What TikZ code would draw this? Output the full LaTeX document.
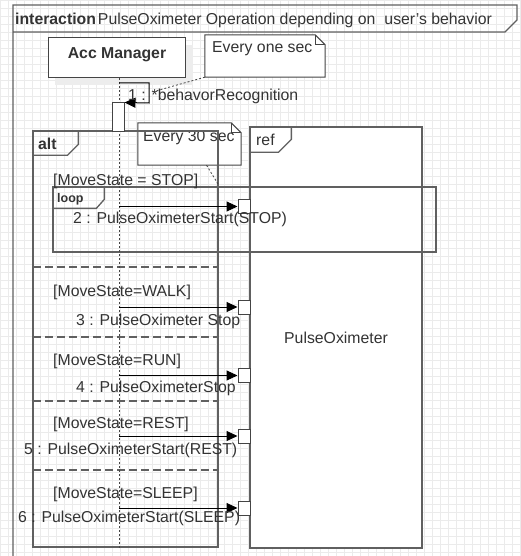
\documentclass[tikz,border=0pt]{standalone}
\usepackage{fontspec}
\setmainfont{Liberation Sans}
\usetikzlibrary{arrows.meta}
\definecolor{gridc}{HTML}{EBEBEB}
\definecolor{framec}{HTML}{606060}
\definecolor{boxc}{HTML}{444444}
\definecolor{txtc}{HTML}{333333}
\begin{document}
\begin{tikzpicture}[x=1pt,y=-1pt,
  txt/.style={font=\fontsize{15.8}{19}\selectfont, text=txtc, inner sep=0pt, anchor=base west},
  btxt/.style={txt, font=\fontsize{15.8}{19}\selectfont\bfseries},
  frame/.style={draw=framec, line width=1.3pt, inner sep=0pt},
  msg/.style={draw=black, line width=1pt, -{Triangle[length=11pt,width=10pt]}},
  exec/.style={draw=boxc, fill=white, line width=1pt, inner sep=0pt, minimum width=12pt, minimum height=14pt},
  notebox/.style={inner sep=0pt},
  notedraw/.style={draw=boxc, fill=white, line width=1pt},
  sep/.style={draw=framec, line width=1.3pt, dash pattern=on 8pt off 4pt},
  life/.style={draw=boxc, line width=1pt, dash pattern=on 2pt off 2pt},
  link/.style={draw=boxc, line width=0.8pt, dash pattern=on 2pt off 2pt}
]
\useasboundingbox (0,0) rectangle (521,556);
\fill[white] (0,0) rectangle (521,556);
% grid
\foreach \i in {0,8,...,520} \draw[gridc, line width=0.6pt] (\i,0) -- (\i,556);
\foreach \j in {0,8,...,552} \draw[gridc, line width=0.6pt] (0,\j) -- (521,\j);

% outer interaction frame
\draw[frame] (13,556) -- (13,5) -- (517,5) -- (517,20) -- (505,32) -- (13,32);
\node[txt] (title) at (15,25) {\bfseries interaction\hspace{2pt}\mdseries PulseOximeter Operation depending on\hspace{9pt}user's behavior};

% ref frame
\node[frame, fill=white, minimum width=172pt, minimum height=421pt,
      font=\fontsize{15.8}{19}\selectfont, text=txtc] (ref) at (336,337.5) {PulseOximeter};
\draw[frame] (ref.north west) ++(42,0) -- ++(0,13) -- ++(-13,13) -- ++(-29,0);
\node[txt] (reft) at (256,145.5) {ref};

% notes
\node[notebox, minimum width=120pt, minimum height=42pt] (n1) at (265,56) {};
\draw[notedraw] (n1.north west) -- ([xshift=-10pt]n1.north east) -- ([yshift=-10pt]n1.north east) -- (n1.south east) -- (n1.south west) -- cycle;
\draw[boxc, line width=1pt] ([xshift=-10pt]n1.north east) -- ([xshift=-10pt,yshift=-10pt]n1.north east) -- ([yshift=-10pt]n1.north east);
\node[txt] (n1t) at (212,53) {Every one sec};

\node[notebox, minimum width=103pt, minimum height=42pt] (n2) at (189.5,144) {};
\draw[notedraw] (n2.north west) -- ([xshift=-10pt]n2.north east) -- ([yshift=-10pt]n2.north east) -- (n2.south east) -- (n2.south west) -- cycle;
\draw[boxc, line width=1pt] ([xshift=-10pt]n2.north east) -- ([xshift=-10pt,yshift=-10pt]n2.north east) -- ([yshift=-10pt]n2.north east);
\node[txt] (n2t) at (143,142) {Every 30 sec};

% Acc Manager
\fill[black!7] (55,45) rectangle (193,85);
\node[draw=boxc, fill=white, line width=1pt, minimum width=137pt, minimum height=40pt,
      font=\fontsize{15.8}{19}\selectfont\bfseries, text=txtc, text height=11pt, text depth=10pt] (acc) at (117,58) {Acc Manager};

% alt frame
\node[frame, minimum width=185pt, minimum height=416pt] (alt) at (125.5,339) {};
\draw[frame] (alt.north west) ++(46,0) -- ++(0,14) -- ++(-11,11) -- ++(-35,0);
\node[btxt] (altt) at (38,149.5) {alt};
\foreach \y in {267,337,401,470} \draw[sep] (33,\y) -- (218,\y);

% loop frame
\node[frame, minimum width=383pt, minimum height=65pt] (loop) at (244.5,219.5) {};
\draw[frame] (loop.north west) ++(52,0) -- ++(0,13) -- ++(-8,9) -- ++(-44,0);
\node[txt, font=\fontsize{12.5}{15}\selectfont\bfseries] (loopt) at (57,202.5) {loop};

% lifeline
\coordinate (lltop) at (119,78);
\coordinate (llbot) at (119,548);
\draw[life] (lltop) -- (llbot);

% self message
\node[exec, minimum height=29pt] (act) at (118,117.5) {};
\coordinate (s1) at (119,83);
\draw[msg] (s1) -- (149,83) -- (149,103) -- (act.north east);
\node[txt] (m1) at (128,100.5) {1 : *behavorRecognition};

% note links
\coordinate (c1) at (152,92);
\draw[link] (n1.south west) -- (c1);
\coordinate (c2) at (218,184);
\draw[link] ([xshift=17pt]n2.south) -- (c2);

% messages
\node[exec] (b2) at (244,206.5) {};
\node[exec] (b3) at (244,307) {};
\node[exec] (b4) at (244,375.5) {};
\node[exec] (b5) at (244,436) {};
\node[exec] (b6) at (244,508) {};
\foreach \b in {b2,b3,b4,b5,b6} \draw[msg] (lltop |- \b.west) -- (\b.west);

% guards and labels
\node[txt] (g1) at (53,185.5) {[MoveState = STOP]};
\node[txt] (m2) at (73,223.5) {2 : PulseOximeterStart(STOP)};
\node[txt] (g2) at (53,296.5) {[MoveState=WALK]};
\node[txt] (m3) at (76,325.5) {3 : PulseOximeter Stop};
\node[txt] (g3) at (53,365.5) {[MoveState=RUN]};
\node[txt] (m4) at (76,392.5) {4 : PulseOximeterStop};
\node[txt] (g4) at (53,428.5) {[MoveState=REST]};
\node[txt] (m5) at (24,454.5) {5 : PulseOximeterStart(REST)};
\node[txt] (g5) at (53,498.5) {[MoveState=SLEEP]};
\node[txt] (m6) at (18,522.5) {6 : PulseOximeterStart(SLEEP)};
\end{tikzpicture}
\end{document}
